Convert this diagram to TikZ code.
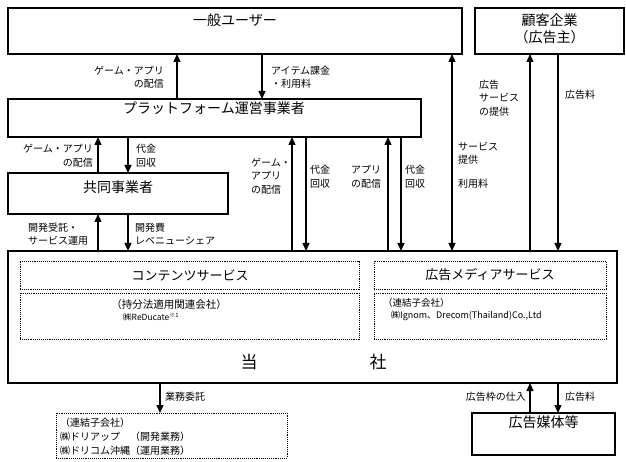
\documentclass[tikz,border=0pt]{standalone}
\usepackage{fontspec}
\setmainfont{Noto Sans CJK JP}
\usetikzlibrary{arrows.meta}
\begin{document}
\begin{tikzpicture}[x=1pt,y=-1pt,
  box/.style={draw,line width=1.6pt,rectangle,inner sep=0pt,outer sep=0pt},
  dbox/.style={draw,densely dotted,line width=0.9pt,rectangle,inner sep=0pt,outer sep=0pt},
  title/.style={inner sep=0pt,font=\fontsize{14}{17}\selectfont,align=center},
  lbl/.style={inner sep=0pt,font=\fontsize{10}{13.5}\selectfont},
  arr/.style={line width=1.3pt,-{Triangle[length=8pt,width=7pt]}},
  barr/.style={line width=1.3pt,{Triangle[length=8pt,width=7pt]}-{Triangle[length=8pt,width=7pt]}}]
\useasboundingbox (0,0) rectangle (626,462);
% boxes
\node[box,minimum width=454pt,minimum height=46pt] (user) at (235,31) {};
\node[box,minimum width=149pt,minimum height=46pt] (client) at (549.5,31) {};
\node[box,minimum width=413pt,minimum height=38pt] (plat) at (214.5,118) {};
\node[box,minimum width=220pt,minimum height=41pt] (joint) at (118,193.5) {};
\node[box,minimum width=609pt,minimum height=132pt] (comp) at (312.5,317) {};
\node[dbox,minimum width=339pt,minimum height=28pt] (cs) at (189.5,275) {};
\node[dbox,minimum width=339pt,minimum height=46pt] (cs2) at (189.5,316) {};
\node[dbox,minimum width=232pt,minimum height=28pt] (ad) at (490,275) {};
\node[dbox,minimum width=232pt,minimum height=46pt] (ad2) at (490,316) {};
\node[dbox,minimum width=231pt,minimum height=45pt] (sub) at (171.5,435.5) {};
\node[box,minimum width=143pt,minimum height=42pt] (media) at (543.5,434) {};
% titles
\node[title] (tuser) at (235,20) {一般ユーザー};
\node[title] (tclient) at (549.5,28.5) {顧客企業\\（広告主）};
\node[title] (tplat) at (214,108) {プラットフォーム運営事業者};
\node[title] (tjoint) at (118,187) {共同事業者};
\node[title,font=\fontsize{13}{15}\selectfont] (tcs) at (190,275) {コンテンツサービス};
\node[title,font=\fontsize{13}{15}\selectfont] (tad) at (490,275) {広告メディアサービス};
\node[title,font=\fontsize{17}{20}\selectfont] (ttou) at (249,362) {当};
\node[title,font=\fontsize{17}{20}\selectfont] (tsha) at (378,362) {社};
\node[title] (tmedia) at (543.5,422) {広告媒体等};
\node[lbl,font=\fontsize{10.5}{13}\selectfont] (cs2a) at (169,305) {（持分法適用関連会社）};
\node[lbl,anchor=west,font=\fontsize{8.5}{11}\selectfont] (cs2b) at (123,317) {㈱ReDucate\textsuperscript{※1}};
\node[lbl,anchor=west,font=\fontsize{9.5}{12}\selectfont] (ad2a) at (383,303) {（連結子会社）};
\node[lbl,anchor=west,font=\fontsize{9}{12}\selectfont] (ad2b) at (391,316) {㈱Ignom、Drecom(Thailand)Co.,Ltd};
\node[lbl,anchor=west,align=left,font=\fontsize{10}{14}\selectfont] (subt) at (60,437) {（連結子会社）\\㈱ドリアップ　（開発業務）\\㈱ドリコム沖縄（運用業務）};
% arrow x positions
\coordinate (x177) at (177,0);
\coordinate (x262) at (262,0);
\coordinate (x98) at (98,0);
\coordinate (x128) at (128,0);
\coordinate (x160) at (160,0);
\coordinate (x292) at (292,0);
\coordinate (x306) at (306,0);
\coordinate (x388) at (388,0);
\coordinate (x401) at (401,0);
\coordinate (x452) at (452,0);
\coordinate (x530) at (530,0);
\coordinate (x558) at (558,0);
% arrows
\draw[arr] (plat.north -| x177) -- (user.south -| x177);
\draw[arr] (user.south -| x262) -- (plat.north -| x262);
\draw[arr] (joint.north -| x98) -- (plat.south -| x98);
\draw[arr] (plat.south -| x128) -- (joint.north -| x128);
\draw[arr] (comp.north -| x98) -- (joint.south -| x98);
\draw[arr] (joint.south -| x128) -- (comp.north -| x128);
\draw[arr] (comp.north -| x292) -- (plat.south -| x292);
\draw[arr] (plat.south -| x306) -- (comp.north -| x306);
\draw[arr] (comp.north -| x388) -- (plat.south -| x388);
\draw[arr] (plat.south -| x401) -- (comp.north -| x401);
\draw[barr] (comp.north -| x452) -- (user.south -| x452);
\draw[arr] (comp.north -| x530) -- (client.south -| x530);
\draw[arr] (client.south -| x558) -- (comp.north -| x558);
\draw[arr] (comp.south -| x160) -- (sub.north -| x160);
\draw[arr] (media.north -| x530) -- (comp.south -| x530);
\draw[arr] (comp.south -| x558) -- (media.north -| x558);
% labels
\node[lbl,anchor=east,align=right] (l1) at (164,77) {ゲーム・アプリ\\の配信};
\node[lbl,anchor=west,align=left] (l2) at (271,77) {アイテム課金\\・利用料};
\node[lbl,anchor=east,align=right] (l3) at (93,155.5) {ゲーム・アプリ\\の配信};
\node[lbl,anchor=west,align=left] (l4) at (136,155.5) {代金\\回収};
\node[lbl,anchor=west,align=left] (l5) at (28,234) {開発受託・\\サービス運用};
\node[lbl,anchor=west,align=left] (l6) at (135,234) {開発費\\レベニューシェア};
\node[lbl,anchor=west,align=left] (l7) at (251,176) {ゲーム・\\アプリ\\の配信};
\node[lbl,anchor=west,align=left] (l8) at (310,176.5) {代金\\回収};
\node[lbl,anchor=west,align=left] (l9) at (351,176.5) {アプリ\\の配信};
\node[lbl,anchor=west,align=left] (l10) at (405,176.5) {代金\\回収};
\node[lbl,anchor=north west,align=left] (l11) at (458,142) {サービス\\提供\\[10pt]利用料};
\node[lbl,anchor=west,align=left] (l12) at (479,98) {広告\\サービス\\の提供};
\node[lbl,anchor=west] (l13) at (565,95) {広告料};
\node[lbl,anchor=west] (l14) at (165,397) {業務委託};
\node[lbl,anchor=east] (l15) at (526,397) {広告枠の仕入};
\node[lbl,anchor=west] (l16) at (565,397) {広告料};
\end{tikzpicture}
\end{document}
